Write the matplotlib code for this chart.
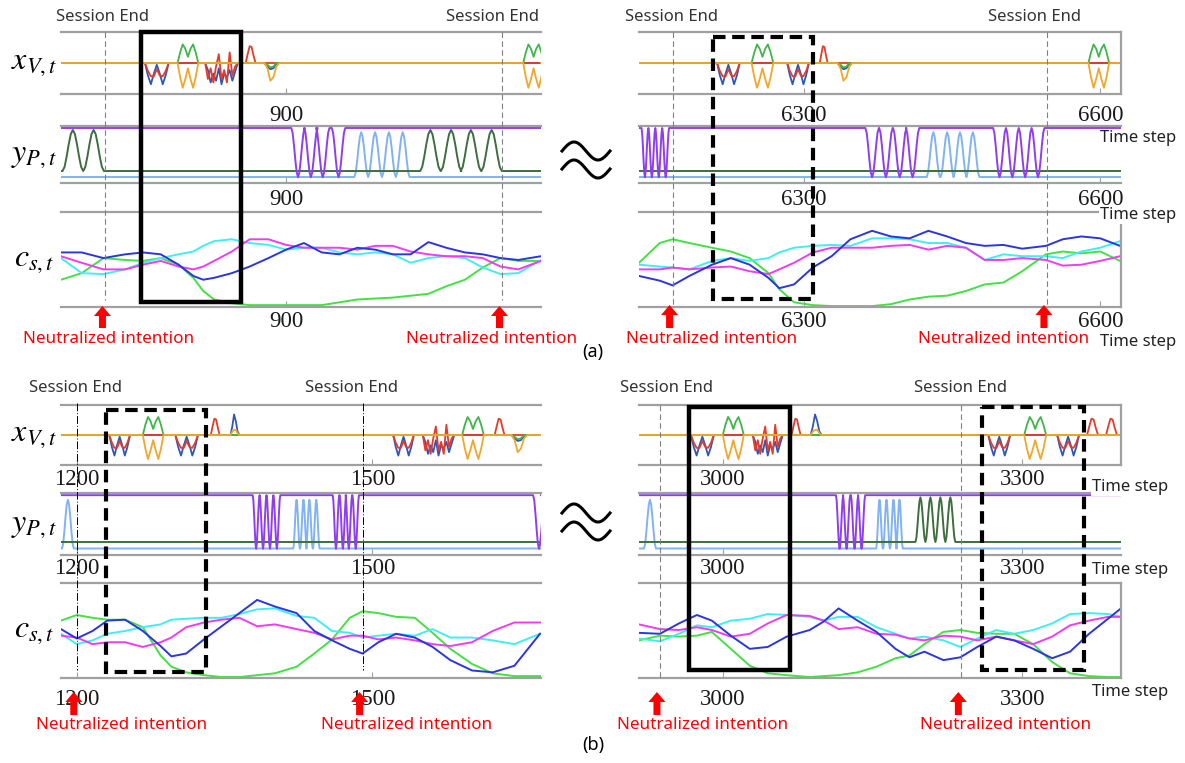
import numpy as np
import matplotlib.pyplot as plt
from matplotlib.patches import Rectangle, FancyArrow

plt.rcParams['mathtext.fontset'] = 'stix'

W, H = 1185, 763

# ---------------- x_V,t burst templates (per channel) ----------------
XV_PATTERNS = {
    'dip2': {'blue': [0, -0.7, -1.2, -0.6, -0.1, -0.6, -1.2, -0.7, 0],
             'red': [0, -0.45, -0.75, -0.75, -0.35, -0.7, -0.75, -0.45, 0]},
    'bump2': {'green': [0, 0.6, 1.05, 0.8, 0.35, 0.8, 1.05, 0.6, 0],
              'orange': [0, -0.8, -1.4, -0.9, -0.3, -0.9, -1.4, -0.8, 0]},
    'noisy': {'red': [0, -0.9, -0.3, -1.1, -0.2, 0.5, -0.9, -0.4, -1.1, 0.6, -0.7, -0.2, 0],
              'blue': [0, -0.4, -1.1, -0.6, -1.0, -0.3, -1.2, -0.6, -0.8, -0.4, -1.0, -0.5, 0]},
    'red1': {'red': [0, 0.5, 0.95, 0.9, 0.4, 0]},
    'blue1': {'blue': [0, 0.5, 1.2, 0.8, 0.2, 0],
              'orange': [0, 0.2, 0.3, 0.3, 0.1, 0]},
    'dip1': {'orange': [0, -0.3, -1.0, -0.8, -0.2, 0],
             'blue': [0, -0.2, -0.35, -0.3, -0.05, 0],
             'green': [0, -0.1, -0.25, -0.2, 0, 0]},
}

# (start, end, pattern)
A_LEFT_XV_EVENTS = [(757, 781, 'dip2'), (790, 811, 'bump2'), (818, 851, 'noisy'),
                    (859, 869, 'red1'), (878, 893, 'dip1'), (1140, 1161, 'bump2')]
A_RIGHT_XV_EVENTS = [(6212, 6235, 'dip2'), (6247, 6269, 'bump2'), (6283, 6305, 'dip2'),
                     (6316, 6324, 'red1'), (6334, 6349, 'dip1'), (6588, 6609, 'bump2')]
B_LEFT_XV_EVENTS = [(1233, 1254, 'dip2'), (1267, 1288, 'bump2'), (1300, 1323, 'dip2'),
                    (1336, 1345, 'red1'), (1356, 1365, 'blue1'), (1521, 1542, 'dip2'),
                    (1551, 1583, 'noisy'), (1591, 1613, 'bump2'), (1624, 1634, 'red1'),
                    (1641, 1657, 'dip1')]
B_RIGHT_XV_EVENTS = [(2968, 2991, 'dip2'), (3000, 3021, 'bump2'), (3030, 3060, 'noisy'),
                     (3069, 3078, 'red1'), (3088, 3099, 'blue1'), (3266, 3288, 'dip2'),
                     (3302, 3324, 'bump2'), (3335, 3357, 'dip2'), (3365, 3376, 'red1'),
                     (3384, 3395, 'red1')]

# ---------------- y_P,t : peak times of each burst ----------------
PEAK_SHAPE = [0, 0.1, 0.35, 0.65, 0.9, 1.0, 0.9, 0.65, 0.35, 0.1, 0]
YP_LEVELS = {'purple': (0.965, 0.10), 'lightblue': (0.105, 0.89), 'green': (0.21, 0.93)}

A_LEFT_YP_PURPLE = [[912, 925, 937, 953]]
A_LEFT_YP_LIGHTBLUE = [[976, 990, 1004, 1018]]
A_LEFT_YP_GREEN = [[684, 705], [1046, 1067, 1087, 1108]]

A_RIGHT_YP_PURPLE = [[6139, 6146, 6153, 6160], [6369, 6383, 6397, 6410], [6498, 6511, 6524, 6537]]
A_RIGHT_YP_LIGHTBLUE = [[6431, 6445, 6458, 6471]]
A_RIGHT_YP_GREEN = []

B_LEFT_YP_PURPLE = [[1382, 1389, 1396, 1403], [1463, 1470, 1476, 1483], [1669]]
B_LEFT_YP_LIGHTBLUE = [[1191], [1423, 1430, 1436, 1443]]
B_LEFT_YP_GREEN = []

B_RIGHT_YP_PURPLE = [[3117, 3124, 3132, 3139]]
B_RIGHT_YP_LIGHTBLUE = [[2927], [3157, 3164, 3171, 3177]]
B_RIGHT_YP_GREEN = [[3198, 3208, 3218, 3228]]

# ---------------- c_s,t ----------------
A_LEFT_CS_T = [672, 693, 715, 737, 755, 773, 791, 806, 816, 827, 845, 863, 882, 900,
               918, 936, 954, 972, 990, 1008, 1026, 1044, 1062, 1081, 1099, 1117, 1135, 1158]
A_LEFT_CS_BLUE = [.57, .57, .51, .55, .57, .55, .44, .32, .28, .30, .35, .42, .51, .60,
                  .67, .57, .55, .62, .60, .55, .55, .68, .62, .57, .55, .51, .49, .53]
A_LEFT_CS_MAGENTA = [.53, .46, .39, .39, .44, .48, .42, .39, .42, .48, .58, .71, .71, .65,
                     .62, .62, .62, .60, .64, .64, .58, .55, .53, .53, .51, .42, .39, .48]
A_LEFT_CS_CYAN = [.51, .35, .34, .39, .46, .51, .55, .58, .64, .69, .71, .67, .65, .60,
                  .62, .62, .57, .55, .57, .55, .46, .51, .53, .51, .41, .34, .35, .49]
A_LEFT_CS_GREEN = [.28, .35, .51, .49, .48, .51, .44, .30, .16, .07, .03, .01, .01, .01,
                   .01, .01, .04, .07, .08, .09, .11, .13, .21, .28, .41, .51, .48, .48]

A_RIGHT_CS_T = [6133, 6154, 6167, 6184, 6207, 6226, 6245, 6264, 6275, 6290, 6309, 6328, 6347, 6369,
                6388, 6407, 6426, 6445, 6464, 6483, 6502, 6521, 6545, 6562, 6581, 6600, 6620]
A_RIGHT_CS_BLUE = [.32, .27, .22, .32, .44, .51, .44, .30, .19, .23, .41, .53, .71, .80,
                   .74, .72, .80, .74, .67, .64, .65, .61, .64, .71, .74, .72, .64]
A_RIGHT_CS_MAGENTA = [.39, .39, .41, .39, .41, .42, .37, .34, .39, .46, .57, .62, .62, .62,
                      .64, .65, .60, .64, .62, .49, .49, .51, .49, .43, .44, .48, .53]
A_RIGHT_CS_CYAN = [.44, .42, .41, .39, .48, .51, .48, .51, .57, .62, .64, .65, .64, .72,
                   .72, .71, .67, .67, .62, .49, .55, .53, .53, .51, .58, .62, .69]
A_RIGHT_CS_GREEN = [.46, .67, .71, .67, .62, .58, .51, .35, .18, .04, .01, 0, 0, 0,
                    .02, .07, .10, .11, .16, .23, .25, .37, .55, .58, .56, .58, .48]

B_LEFT_CS_T = [1184, 1200, 1216, 1231, 1249, 1267, 1285, 1296, 1311, 1329, 1347, 1365, 1383, 1401,
               1423, 1441, 1459, 1477, 1490, 1506, 1524, 1543, 1561, 1579, 1601, 1622, 1644, 1670]
B_LEFT_CS_BLUE = [.51, .41, .49, .60, .61, .49, .33, .22, .25, .40, .54, .68, .82, .75,
                  .68, .49, .39, .30, .25, .37, .46, .42, .32, .18, .07, .05, .12, .46]
B_LEFT_CS_MAGENTA = [.44, .42, .35, .37, .37, .32, .37, .42, .53, .58, .61, .63, .54, .56,
                     .51, .47, .40, .44, .44, .40, .42, .39, .35, .33, .37, .49, .58, .58]
B_LEFT_CS_CYAN = [.46, .35, .39, .46, .49, .53, .56, .61, .62, .63, .63, .67, .72, .73,
                  .65, .63, .49, .47, .42, .44, .46, .44, .51, .42, .42, .39, .35, .46]
B_LEFT_CS_GREEN = [.60, .66, .63, .61, .61, .53, .23, .11, .05, .02, 0, 0, .02, .04,
                   .11, .25, .40, .63, .70, .68, .64, .63, .47, .30, .14, .04, .01, .01]

B_RIGHT_CS_T = [2916, 2937, 2956, 2974, 2989, 3008, 3027, 3045, 3064, 3087, 3101, 3116, 3135, 3154,
                3173, 3187, 3202, 3221, 3238, 3255, 3274, 3292, 3311, 3330, 3348, 3367, 3386, 3399]
B_RIGHT_CS_BLUE = [.47, .46, .57, .66, .60, .44, .30, .32, .43, .50, .59, .73, .60, .48,
                   .30, .21, .27, .18, .21, .32, .43, .39, .30, .20, .27, .46, .62, .73]
B_RIGHT_CS_MAGENTA = [.56, .51, .50, .53, .50, .43, .46, .57, .66, .65, .60, .51, .53, .46,
                      .45, .41, .39, .44, .43, .39, .43, .39, .35, .43, .55, .60, .64, .64]
B_RIGHT_CS_CYAN = [.41, .38, .46, .55, .53, .60, .62, .67, .66, .64, .60, .64, .64, .53,
                   .46, .41, .43, .39, .32, .41, .50, .46, .50, .57, .67, .68, .67, .64]
B_RIGHT_CS_GREEN = [.39, .44, .43, .44, .48, .30, .12, .04, .02, 0, .01, .02, .05, .11,
                    .20, .23, .35, .48, .50, .47, .46, .46, .35, .16, .04, .01, 0, 0]

# session ends and highlighted windows (time steps)
A_LEFT_SESSION_END = [717, 1119]
A_RIGHT_SESSION_END = [6167, 6546]
B_LEFT_SESSION_END = [1200, 1490]
B_RIGHT_SESSION_END = [2937, 3239]

A_LEFT_SOLID, A_LEFT_DASHED = [(753, 854)], []
A_RIGHT_SOLID, A_RIGHT_DASHED = [], [(6208, 6309)]
B_LEFT_SOLID, B_LEFT_DASHED = [], [(1230, 1331)]
B_RIGHT_SOLID, B_RIGHT_DASHED = [(2966, 3067)], [(3260, 3362)]

# ---------------- styles ----------------
XV_COLORS = {'blue': '#2e58b8', 'red': '#e53b2c', 'green': '#3fb54a', 'orange': '#f2a62a'}
YP_COLORS = {'lightblue': '#80b2f5', 'green': '#3d6e3d', 'purple': '#8f3df2'}
CS_COLORS = ['#44e044', '#40eef2', '#f03cf0', '#2b35e0']
GRAY = '#a0a0a0'
SANS = 'Noto Sans'
SERIF = 'Liberation Serif'

ROWS_A = ((32, 94), (126, 183), (212, 307))
ROWS_B = ((405, 465), (493, 555), (583, 678))

panels = [
    dict(x=(61, 541), rows=ROWS_A, xlim=(672, 1158), ticks=[900], framed=False,
         xv=A_LEFT_XV_EVENTS, yp=(A_LEFT_YP_LIGHTBLUE, A_LEFT_YP_GREEN, A_LEFT_YP_PURPLE),
         cs=(A_LEFT_CS_T, A_LEFT_CS_GREEN, A_LEFT_CS_CYAN, A_LEFT_CS_MAGENTA, A_LEFT_CS_BLUE),
         ends=A_LEFT_SESSION_END, solid=A_LEFT_SOLID, dashed=A_LEFT_DASHED,
         end_span=(32, 300), box_span=(32, 302), end_style='gray', pads=(8, 4, 3),
         end_text_dx=(-3, -10), arrow_span=(328, 306), note_y=339, note_dx=(6, -8)),
    dict(x=(639, 1121), rows=ROWS_A, xlim=(6133, 6621), ticks=[6300, 6600], framed=True,
         xv=A_RIGHT_XV_EVENTS, yp=(A_RIGHT_YP_LIGHTBLUE, A_RIGHT_YP_GREEN, A_RIGHT_YP_PURPLE),
         cs=(A_RIGHT_CS_T, A_RIGHT_CS_GREEN, A_RIGHT_CS_CYAN, A_RIGHT_CS_MAGENTA, A_RIGHT_CS_BLUE),
         ends=A_RIGHT_SESSION_END, solid=A_RIGHT_SOLID, dashed=A_RIGHT_DASHED,
         end_span=(32, 305), box_span=(37, 299), end_style='gray', pads=(8, 4, 3),
         end_text_dx=(-1, -12), arrow_span=(328, 305), note_y=339, note_dx=(42, -40)),
    dict(x=(61, 541), rows=ROWS_B, xlim=(1184, 1671), ticks=[1200, 1500], framed=False,
         xv=B_LEFT_XV_EVENTS, yp=(B_LEFT_YP_LIGHTBLUE, B_LEFT_YP_GREEN, B_LEFT_YP_PURPLE),
         cs=(B_LEFT_CS_T, B_LEFT_CS_GREEN, B_LEFT_CS_CYAN, B_LEFT_CS_MAGENTA, B_LEFT_CS_BLUE),
         ends=B_LEFT_SESSION_END, solid=B_LEFT_SOLID, dashed=B_LEFT_DASHED,
         end_span=(403, 670), box_span=(410, 672), end_style='black', pads=(3, 2, 8),
         end_text_dx=(-1, -11), arrow_span=(715, 692), note_y=725, note_dx=(48, 47)),
    dict(x=(639, 1121), rows=ROWS_B, xlim=(2916, 3399), ticks=[3000, 3300], framed=True,
         xv=B_RIGHT_XV_EVENTS, yp=(B_RIGHT_YP_LIGHTBLUE, B_RIGHT_YP_GREEN, B_RIGHT_YP_PURPLE),
         cs=(B_RIGHT_CS_T, B_RIGHT_CS_GREEN, B_RIGHT_CS_CYAN, B_RIGHT_CS_MAGENTA, B_RIGHT_CS_BLUE),
         ends=B_RIGHT_SESSION_END, solid=B_RIGHT_SOLID, dashed=B_RIGHT_DASHED,
         end_span=(405, 677), box_span=(407, 670), end_style='gray', pads=(3, 2, 8),
         end_text_dx=(7, -1), arrow_span=(715, 692), note_y=725, note_dx=(46, 47)),
]


def xv_series(events, xlim, color):
    ts, vs = [xlim[0]], [0.0]
    for start, end, kind in sorted(events):
        shape = XV_PATTERNS[kind].get(color)
        if shape is None:
            continue
        ts.extend(np.linspace(start, end, len(shape)))
        vs.extend(shape)
    ts.append(xlim[1])
    vs.append(0.0)
    return ts, vs


def yp_series(bursts, xlim, rest, peak):
    ts, vs = [xlim[0]], [rest]
    shape = np.array(PEAK_SHAPE)
    for burst in sorted(bursts):
        hw = (burst[-1] - burst[0]) / (len(burst) - 1) / 2 if len(burst) > 1 else 6
        for p in burst:
            ts.extend(np.linspace(p - hw, p + hw, len(shape)))
            vs.extend(rest + (peak - rest) * shape)
    ts.append(xlim[1])
    vs.append(rest)
    return ts, vs


fig = plt.figure(figsize=(W / 100, H / 100), dpi=100)


def add_strip(x0, x1, y0, y1):
    return fig.add_axes([x0 / W, 1 - y1 / H, (x1 - x0) / W, (y1 - y0) / H])


def t2px(p, t):
    (x0, x1), (t0, t1) = p['x'], p['xlim']
    return x0 + (t - t0) / (t1 - t0) * (x1 - x0)


for p in panels:
    for row, (y0, y1) in enumerate(p['rows']):
        ax = add_strip(p['x'][0], p['x'][1], y0, y1)
        ax.set_xlim(p['xlim'])
        ax.patch.set_alpha(0)
        for side, sp in ax.spines.items():
            sp.set_color(GRAY)
            sp.set_linewidth(1.6)
        ax.spines['left'].set_visible(False)
        ax.spines['right'].set_visible(p['framed'] and row != 1)
        ax.set_yticks([])
        ax.set_xticks(p['ticks'])
        ax.tick_params(axis='x', direction='in', length=4, color=GRAY, pad=p['pads'][row],
                       labelsize=16.5, labelcolor='#1a1a1a', labelfontfamily=SERIF)

        if row == 0:
            ax.set_ylim(-1.75, 1.75)
            for c in ['blue', 'red', 'green', 'orange']:
                ts, vs = xv_series(p['xv'], p['xlim'], c)
                ax.plot(ts, vs, color=XV_COLORS[c], lw=1.3)
        elif row == 1:
            ax.set_ylim(0, 1)
            for key, bursts in zip(['lightblue', 'green', 'purple'], p['yp']):
                rest, peak = YP_LEVELS[key]
                ts, vs = yp_series(bursts, p['xlim'], rest, peak)
                ax.plot(ts, vs, color=YP_COLORS[key], lw=1.4)
        else:
            ax.set_ylim(-0.01, 1)
            t = p['cs'][0]
            for col, vals in zip(CS_COLORS, p['cs'][1:]):
                ax.plot(t, vals, color=col, lw=1.4)

# ---------------- overlay for annotations ----------------
ov = fig.add_axes([0, 0, 1, 1], zorder=10)
ov.set_xlim(0, W)
ov.set_ylim(H, 0)
ov.axis('off')
ov.patch.set_alpha(0)

for p in panels:
    for i, te in enumerate(p['ends']):
        xp = t2px(p, te)
        if p['end_style'] == 'black':
            ov.plot([xp, xp], p['end_span'], color='black', lw=0.7, ls=(0, (8, 2, 1, 2)))
        else:
            ov.plot([xp, xp], p['end_span'], color='#808080', lw=0.8, ls=(0, (5, 3)))
        ytxt = 17 if p['rows'] is ROWS_A else 388
        ov.text(xp + p['end_text_dx'][i], ytxt, 'Session End', ha='center', va='center',
                fontsize=12, color='#333333', family=SANS)
        xa = xp - 3
        yb, yt = p['arrow_span']
        ov.add_patch(FancyArrow(xa, yb, 0, yt - yb, width=7, head_width=17, head_length=10,
                                length_includes_head=True, color='#ff0000', lw=0))
        ov.text(xa + p['note_dx'][i], p['note_y'], 'Neutralized intention', ha='center',
                va='center', fontsize=12.3, color='#ff0000', family=SANS)
    yb0, yb1 = p['box_span']
    for t0, t1 in p['solid']:
        x0, x1 = t2px(p, t0), t2px(p, t1)
        ov.add_patch(Rectangle((x0, yb0), x1 - x0, yb1 - yb0, fill=False, ec='black', lw=3.2))
    for t0, t1 in p['dashed']:
        x0, x1 = t2px(p, t0), t2px(p, t1)
        ov.add_patch(Rectangle((x0, yb0), x1 - x0, yb1 - yb0, fill=False, ec='black', lw=3.0,
                               ls=(0, (3, 1.6))))

# row labels
for rows in (ROWS_A, ROWS_B):
    for (y0, y1), lab in zip(rows, [r'$x_{V,t}$', r'$y_{P,t}$', r'$c_{s,t}$']):
        ov.text(34, (y0 + y1) / 2 + (0 if lab[2] != 'c' else -6), lab, ha='center', va='center',
                fontsize=23)

# "Time step" labels on the right panels
for yt in (138, 215, 342):
    ov.text(1100, yt, 'Time step', ha='left', va='center', fontsize=12, color='#222222',
            family=SANS, bbox=dict(fc='white', ec='none', pad=1))
for yt in (487, 570, 692):
    ov.text(1092, yt, 'Time step', ha='left', va='center', fontsize=12, color='#222222',
            family=SANS, bbox=dict(fc='white', ec='none', pad=1))

# break symbols between left and right panels
for yc in (160, 522):
    xs = np.linspace(562, 610, 60)
    for dy in (-9, 9):
        ov.plot(xs, yc + dy - 9 * np.sin(2 * np.pi * (xs - 562) / 48), color='black', lw=2.2)

ov.text(593, 352, '(a)', ha='center', va='center', fontsize=13, family=SANS)
ov.text(593, 745, '(b)', ha='center', va='center', fontsize=13, family=SANS)

fig.savefig('out.png', dpi=100)
